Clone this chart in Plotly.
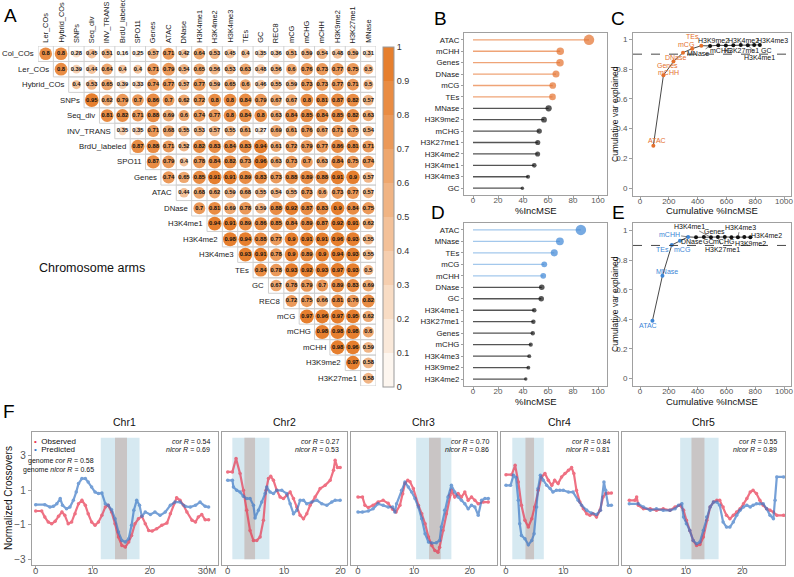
import plotly.graph_objects as go
from itertools import accumulate

W, H = 794, 577
FONT = "Liberation Sans, Arial, sans-serif"


def fx(px):
    return px / W


def fy(py):
    return 1 - py / H


# ---------------- Panel A data ----------------
corr_vars = ["Col_COs", "Ler_COs", "Hybrid_COs", "SNPs", "Seq_div", "INV_TRANS",
             "BrdU_labeled", "SPO11", "Genes", "ATAC", "DNase", "H3K4me1",
             "H3K4me2", "H3K4me3", "TEs", "GC", "REC8", "mCG", "mCHG", "mCHH",
             "H3K9me2", "H3K27me1", "MNase"]
corr_rows = [
    [0.8, 0.8, 0.28, 0.45, 0.51, 0.16, 0.25, 0.57, 0.71, 0.42, 0.64, 0.53, 0.45, 0.4, 0.35, 0.36, 0.51, 0.59, 0.54, 0.48, 0.59, 0.31],
    [0.8, 0.39, 0.44, 0.64, 0.4, 0.4, 0.71, 0.79, 0.54, 0.65, 0.56, 0.53, 0.63, 0.48, 0.56, 0.6, 0.76, 0.73, 0.77, 0.75, 0.5],
    [0.4, 0.53, 0.65, 0.39, 0.33, 0.74, 0.77, 0.57, 0.77, 0.59, 0.65, 0.6, 0.46, 0.55, 0.59, 0.73, 0.73, 0.77, 0.71, 0.5],
    [0.95, 0.62, 0.79, 0.7, 0.86, 0.7, 0.62, 0.72, 0.8, 0.8, 0.84, 0.79, 0.67, 0.67, 0.8, 0.81, 0.87, 0.82, 0.57],
    [0.81, 0.82, 0.71, 0.88, 0.69, 0.6, 0.74, 0.77, 0.8, 0.84, 0.8, 0.63, 0.84, 0.85, 0.84, 0.85, 0.82, 0.63],
    [0.35, 0.35, 0.71, 0.68, 0.55, 0.53, 0.57, 0.55, 0.61, 0.27, 0.69, 0.61, 0.76, 0.67, 0.71, 0.75, 0.54],
    [0.87, 0.88, 0.71, 0.52, 0.82, 0.83, 0.84, 0.83, 0.94, 0.61, 0.72, 0.79, 0.77, 0.86, 0.81, 0.71],
    [0.87, 0.79, 0.4, 0.78, 0.84, 0.82, 0.73, 0.96, 0.63, 0.73, 0.7, 0.63, 0.84, 0.75, 0.74],
    [0.74, 0.65, 0.85, 0.91, 0.91, 0.89, 0.83, 0.73, 0.88, 0.89, 0.88, 0.91, 0.9, 0.57],
    [0.44, 0.68, 0.62, 0.59, 0.68, 0.55, 0.54, 0.55, 0.73, 0.6, 0.73, 0.77, 0.57],
    [0.7, 0.81, 0.69, 0.78, 0.59, 0.88, 0.92, 0.87, 0.83, 0.9, 0.84, 0.75],
    [0.94, 0.91, 0.89, 0.86, 0.85, 0.84, 0.89, 0.87, 0.92, 0.91, 0.62],
    [0.98, 0.94, 0.88, 0.77, 0.9, 0.91, 0.91, 0.96, 0.93, 0.55],
    [0.93, 0.91, 0.78, 0.9, 0.89, 0.9, 0.94, 0.93, 0.55],
    [0.84, 0.78, 0.93, 0.92, 0.93, 0.97, 0.93, 0.5],
    [0.67, 0.78, 0.79, 0.7, 0.89, 0.83, 0.69],
    [0.72, 0.75, 0.66, 0.81, 0.76, 0.82],
    [0.97, 0.96, 0.97, 0.95, 0.62],
    [0.98, 0.98, 0.98, 0.6],
    [0.98, 0.96, 0.59],
    [0.97, 0.58],
    [0.58],
]
cb_ticks = [0, 0.1, 0.2, 0.3, 0.4, 0.5, 0.6, 0.7, 0.8, 0.9, 1]

# ---------------- Panels B-E data ----------------
imp_vars_B = ["ATAC", "mCHH", "Genes", "DNase", "mCG", "TEs", "MNase", "H3K9me2",
              "mCHG", "H3K27me1", "H3K4me2", "H3K4me1", "H3K4me3", "GC"]
imp_B = [92.8, 69.8, 69.6, 66.4, 63.8, 63.6, 60.5, 56.8, 53.0, 51.8, 51.7, 49.0, 44.0, 39.5]
cumvar_B = [0.286, 0.758, 0.850, 0.910, 0.937, 0.957, 0.955, 0.960, 0.958, 0.960,
            0.962, 0.960, 0.962, 0.962]
n_sel_B = 6

imp_vars_D = ["ATAC", "MNase", "TEs", "mCG", "mCHH", "DNase", "GC", "H3K4me1",
              "H3K27me1", "Genes", "mCHG", "H3K4me3", "H3K9me2", "H3K4me2"]
imp_D = [86.3, 69.5, 65.0, 57.0, 56.2, 55.0, 54.6, 49.0, 48.3, 47.8, 46.2, 45.0, 44.3, 42.2]
cumvar_D = [0.390, 0.695, 0.903, 0.932, 0.958, 0.955, 0.957, 0.955, 0.957, 0.957,
            0.956, 0.956, 0.957, 0.956]
n_sel_D = 5

# ---------------- Panel F data ----------------
chr_names = ["Chr1", "Chr2", "Chr3", "Chr4", "Chr5"]
cor_R = ["0.54", "0.27", "0.70", "0.84", "0.55"]
nlcor_R = ["0.69", "0.53", "0.86", "0.81", "0.89"]
genome_cor_R = "0.58"
genome_nlcor_R = "0.65"
peri_start = [11.4, 0.82, 10.4, 1.1, 9.0]
peri_end = [18.2, 7.4, 16.7, 6.6, 15.8]
cen_start = [13.9, 2.96, 12.7, 3.4, 11.0]
cen_end = [16.0, 4.85, 14.8, 4.9, 13.3]
band_bottom, band_top = -3.0, 4.05

chr1_obs_pos = [0, 1.05, 1.6, 2.2, 2.8, 3.4, 4.0, 4.6, 5.1, 5.7, 6.3, 6.9, 7.5, 8.1, 8.7, 9.2, 9.8,
                10.4, 11.0, 11.6, 12.2, 12.7, 13.3, 13.9, 14.5, 15.1, 15.7, 16.3, 16.8, 17.4, 18.0,
                18.6, 19.2, 19.8, 20.4, 21.2, 22.1, 23.0, 23.6, 24.2, 24.7, 25.3, 25.9, 26.5, 27.4,
                28.0, 28.5, 29.1, 29.7, 30.3]
chr1_obs = [-0.20, -0.20, -0.55, -0.84, -0.94, -0.80, -0.51, -0.26, -0.45, -0.94, -0.84, -0.36,
            0.22, 0.42, 0.13, -0.36, -0.84, -1.03, -0.84, -0.45, 0.03, 0.13, -0.26, -0.94, -1.71,
            -2.20, -2.29, -2.00, -1.62, -0.94, -0.65, -0.51, -0.94, -1.33, -1.36, -1.23, -1.03,
            -0.90, -0.36, 0.22, 0.57, 0.42, 0.13, -0.26, -0.74, -0.84, -0.55, -0.40, -0.71, -0.71]
chr1_pred_pos = [0, 1.6, 2.5, 3.1, 3.7, 4.3, 4.7, 5.4, 6.0, 6.6, 7.1, 7.5, 8.1, 8.7, 9.2, 9.8,
                 10.4, 11.0, 11.6, 12.2, 12.7, 13.3, 13.9, 14.5, 15.1, 15.7, 16.3, 16.8, 17.2,
                 17.7, 18.2, 18.6, 19.2, 20.1, 20.9, 21.8, 22.7, 23.6, 24.4, 25.3, 26.2, 27.1,
                 28.0, 28.8, 29.7, 30.3]
chr1_pred = [0.17, 0.17, 0.03, 0.07, 0.22, 0.52, 0.13, -0.07, 0.03, 0.42, 0.90, 1.39, 1.68, 1.68,
             1.48, 1.19, 0.90, 0.81, 0.84, 0.22, 0.13, -0.12, -0.65, -1.42, -1.91, -2.00, -1.81,
             -1.03, -0.16, 0.42, 0.13, -0.51, -0.26, -0.40, -0.26, -0.45, -0.26, 0.13, 0.32, 0.32,
             0.07, 0.03, 0.13, 0.32, 0.07, 0.03]

chr2_obs_pos = [0, 0.83, 1.48, 2.19, 2.78, 3.37, 3.96, 4.56, 5.15, 5.74, 6.33, 6.80, 7.22, 7.63,
                8.11, 8.70, 9.29, 9.88, 10.47, 11.07, 11.66, 12.25, 12.84, 13.43, 14.02, 14.62,
                15.50, 16.39, 17.28, 18.17, 18.76, 19.05, 19.47, 19.94]
chr2_obs = [2.07, 2.07, 2.84, 1.97, 1.0, -0.16, -1.33, -1.91, -1.91, -1.71, -0.74, 1.0, 1.68,
            1.81, 1.58, 1.0, 0.61, 0.52, 0.71, 0.9, 0.52, 0.03, -0.45, -0.65, -0.36, 0.13, 0.61,
            1.10, 1.29, 1.58, 2.16, 2.74, 2.32, 2.32]
chr2_pred_pos = [0, 0.83, 1.01, 1.60, 2.19, 2.78, 3.37, 3.96, 4.56, 4.85, 5.44, 6.04, 6.63, 6.92,
                 7.51, 8.11, 8.70, 9.59, 10.47, 11.07, 11.66, 12.25, 12.84, 13.43, 14.02, 14.91,
                 15.80, 16.69, 17.57, 18.46, 19.05, 19.94]
chr2_pred = [1.58, 1.58, 1.19, 1.0, 0.9, 0.65, 0.52, 0.52, 0.13, -0.6, -0.16, 0.32, 0.81, 1.19,
             0.9, 0.81, 1.0, 1.0, 0.81, 0.22, -0.36, -0.16, 0.42, 0.42, 0.22, 0.32, 0.42, 0.22,
             0.13, 0.32, 0.42, 0.42]

chr3_obs_pos = [0, 0.8, 1.25, 1.85, 2.7, 3.6, 4.5, 5.4, 6.2, 6.8, 7.5, 8.0, 8.4, 8.9, 9.3, 9.9,
                10.8, 11.4, 12.0, 12.6, 13.2, 13.75, 14.3, 14.6, 15.2, 15.8, 16.4, 16.7, 17.3,
                17.9, 18.5, 19.1, 19.7, 20.3, 20.9, 21.5, 22.4, 23.3]
chr3_obs = [0.61, 0.61, 0.13, 0.0, 0.13, 0.32, 0.42, 0.25, -0.1, -0.26, 0.13, 0.8, 1.4, 1.58,
            1.5, 1.1, 0.13, -0.36, -0.94, -1.71, -2.2, -2.49, -2.59, -2.3, -1.33, -0.36, 0.71,
            1.0, 0.61, 0.81, 0.61, 0.9, 0.42, 0.61, 0.42, 0.22, 0.32, 0.32]
chr3_pred_pos = [0, 0.8, 1.85, 2.7, 3.6, 4.5, 5.4, 6.2, 6.6, 6.9, 7.8, 8.4, 9.0, 9.6, 10.2, 10.8,
                 11.4, 12.0, 12.6, 13.2, 14.0, 14.6, 14.9, 15.5, 16.1, 16.7, 17.3, 17.9, 18.5,
                 19.1, 19.7, 20.3, 20.9, 21.5, 22.1, 22.7, 23.3]
chr3_pred = [-0.26, -0.26, -0.2, -0.07, 0.22, 0.13, 0.03, 0.03, -0.26, 0.22, 1.0, 1.48, 1.19,
             0.9, 0.52, 0.03, -0.65, -1.52, -2.0, -2.06, -2.04, -1.91, -1.13, -0.16, 0.61, 1.29,
             0.9, 0.61, 0.42, 0.22, -0.07, 0.13, 0.03, -0.45, 0.42, 0.52, 0.52]

chr4_obs_pos = [0, 1.0, 1.6, 2.15, 2.7, 3.3, 3.9, 4.5, 5.0, 5.6, 6.2, 6.8, 7.4, 8.0, 8.5, 9.1,
                9.7, 10.3, 10.9, 11.45, 11.85, 12.3, 12.9, 13.5, 14.1, 14.65, 15.2, 15.8, 16.4,
                16.95, 17.4, 17.85, 18.4]
chr4_obs = [1.91, 1.91, 2.45, 1.48, 0.13, -0.74, -1.13, -0.65, 0.03, 1.0, 1.78, 1.97, 1.58, 1.29,
            1.58, 1.39, 1.78, 1.97, 2.16, 2.32, 1.97, 1.0, 0.32, -0.07, -0.36, -0.45, -0.36,
            -0.55, -0.16, 0.61, 0.81, 0.84, 0.84]
chr4_pred_pos = [0, 0.8, 1.3, 1.75, 2.15, 2.4, 2.7, 3.3, 3.9, 4.5, 4.9, 5.35, 5.6, 6.0, 6.5, 7.1,
                 7.7, 8.2, 8.8, 9.4, 10.0, 10.9, 11.7, 12.6, 13.2, 14.1, 14.9, 15.8, 16.5, 17.1,
                 17.4, 17.85, 18.4]
chr4_pred = [1.29, 1.29, 1.87, 1.74, 0.42, -0.94, -1.62, -1.81, -2.16, -1.91, -1.52, 0.03, 1.10,
             1.87, 1.58, 1.29, 1.10, 0.9, 1.0, 1.0, 1.0, 0.9, 0.9, 0.42, 0.13, -0.16, -0.32,
             -0.40, -0.16, 1.48, 1.0, 0.13, 0.13]

chr5_obs_pos = [0, 1.0, 1.3, 1.6, 2.5, 3.7, 4.8, 6.0, 7.2, 8.1, 9.0, 9.6, 10.1, 10.7, 11.3, 11.9,
                12.5, 13.1, 13.7, 14.3, 14.9, 15.5, 16.0, 16.6, 17.2, 17.8, 18.4, 19.0, 19.6,
                20.2, 20.8, 21.4, 21.9, 22.5, 23.1, 23.7, 24.3, 24.9, 25.5, 26.1, 27.3]
chr5_obs = [0.42, 0.42, 0.61, 0.13, -0.07, -0.07, -0.16, -0.07, -0.16, 0.03, 0.13, -0.16, -0.74,
            -1.33, -1.91, -2.2, -2.14, -1.71, -0.74, 0.03, 0.32, 0.42, 0.42, 0.03, -0.45, -0.65,
            -0.45, -0.26, -0.07, 0.22, 0.52, 0.9, 1.0, 0.81, 0.42, 0.13, -0.07, -0.16, -0.26,
            -0.45, -0.45]
chr5_pred_pos = [0, 1.6, 2.5, 3.7, 4.8, 6.0, 7.2, 8.1, 8.7, 9.3, 9.6, 10.1, 10.7, 11.3, 11.9,
                 12.5, 13.1, 13.7, 14.3, 14.9, 15.5, 16.0, 16.6, 17.2, 17.8, 18.4, 19.0, 19.6,
                 20.2, 20.8, 21.4, 21.9, 22.5, 23.1, 23.7, 24.3, 24.9, 25.5, 25.8, 26.1, 27.3]
chr5_pred = [0.22, 0.22, 0.03, -0.16, -0.07, -0.16, -0.16, -0.07, 0.13, 0.22, -0.55, -0.94,
             -1.33, -1.91, -2.1, -2.0, -1.33, -0.55, 0.03, 0.32, 0.32, 0.13, -0.84, -1.13, -1.13,
             -0.84, -0.45, -0.16, 0.03, 0.13, 0.03, 0.13, 0.22, 0.22, 0.22, -0.07, -0.45, -0.65,
             0.42, 1.78, 1.78]

obs_pos = [chr1_obs_pos, chr2_obs_pos, chr3_obs_pos, chr4_obs_pos, chr5_obs_pos]
obs_val = [chr1_obs, chr2_obs, chr3_obs, chr4_obs, chr5_obs]
pred_pos = [chr1_pred_pos, chr2_pred_pos, chr3_pred_pos, chr4_pred_pos, chr5_pred_pos]
pred_val = [chr1_pred, chr2_pred, chr3_pred, chr4_pred, chr5_pred]

# ---------------- Styling ----------------
cb_colors = ["#FDF6EF", "#FAE9DA", "#F8DCC4", "#F5CEAF", "#F3C199",
             "#F0B484", "#EEA76E", "#EB9959", "#E98C43", "#E67F2E"]
ORANGE_DOT, ORANGE_SEG = "#E4702C", "#EFA477"
BLUE_DOT, BLUE_SEG = "#3D86D6", "#A3C8EC"
BLACK_DOT, BLACK_SEG = "#111111", "#555555"
OBS_COL, PRED_COL = "#E8364F", "#3B78C6"
AX_COL = "#A0A0A0"
TICK_COL = "#555555"
TXT = "#1a1a1a"


def bin_color(v):
    return cb_colors[min(int(round(v * 100)) // 10, 9)]


fig = go.Figure()
annotations = []
shapes = []


def label(px, py, text, size, color="#111111", angle=0, xanchor="center", yanchor="middle"):
    annotations.append(dict(x=fx(px), y=fy(py), xref="paper", yref="paper", text=text,
                            showarrow=False, textangle=angle, xanchor=xanchor, yanchor=yanchor,
                            font=dict(size=size, color=color)))


# ---------------- Panel A ----------------
row_labels = corr_vars[:-1]
col_labels = corr_vars[1:]
n = len(col_labels)

gx, gy = [], []
for i in range(n):
    for yy in (i - 0.5, i + 0.5):
        gx += [i - 0.5, n - 0.5, None]
        gy += [yy, yy, None]
    for j in range(i, n + 1):
        gx += [j - 0.5, j - 0.5, None]
        gy += [i - 0.5, i + 0.5, None]
fig.add_trace(go.Scatter(x=gx, y=gy, mode="lines", line=dict(color="#D0D0D0", width=1),
                         xaxis="x", yaxis="y", hoverinfo="skip"))

cx, cy, cv = [], [], []
for i, row in enumerate(corr_rows):
    for k, v in enumerate(row):
        cx.append(i + k)
        cy.append(i)
        cv.append(v)

fig.add_trace(go.Scatter(
    x=cx, y=cy, mode="markers",
    marker=dict(size=[14.2 * v ** 0.5 for v in cv], color=[bin_color(v) for v in cv],
                line=dict(width=0), opacity=1),
    xaxis="x", yaxis="y", hoverinfo="skip"))
fig.add_trace(go.Scatter(
    x=cx, y=cy, mode="text", text=[f"{v:g}" for v in cv],
    textfont=dict(size=5.8, color="#111111", family=FONT, weight="bold"),
    xaxis="x", yaxis="y", hoverinfo="skip"))

# column labels (rotated)
for j, lab in enumerate(col_labels):
    annotations.append(dict(x=j, y=-0.5, xref="x", yref="y", text=lab, showarrow=False,
                            textangle=-90, xanchor="center", yanchor="bottom", yshift=1,
                            font=dict(size=7.4, color=TXT)))
# row labels
for i, lab in enumerate(row_labels):
    annotations.append(dict(x=i - 0.5, y=i, xref="x", yref="y", text=lab, showarrow=False,
                            xanchor="right", xshift=-2, font=dict(size=7.8, color=TXT)))
label(92, 268, "Chromosome arms", 12.5)

# colorbar (dummy trace)
discrete_scale = []
for k, c in enumerate(cb_colors):
    discrete_scale += [[k / 10, c], [(k + 1) / 10, c]]
fig.add_trace(go.Scatter(
    x=[None], y=[None], mode="markers", xaxis="x", yaxis="y", hoverinfo="skip",
    marker=dict(color=[0.5], cmin=0, cmax=1, colorscale=discrete_scale, showscale=True,
                colorbar=dict(x=fx(383), xanchor="left", y=fy(46.7), yanchor="top",
                              len=340, lenmode="pixels", thickness=11, thicknessmode="pixels",
                              xpad=0, ypad=0, outlinecolor="#9A9A9A", outlinewidth=1,
                              tickvals=cb_ticks, ticktext=[f"{t:g}" for t in cb_ticks],
                              ticks="", tickfont=dict(size=9, color="#333333", family=FONT)))))


# ---------------- Lollipop helper ----------------
def lollipop(names, vals, nsel, dot_col, seg_col, xa, ya):
    vmin, vmax = min(vals), max(vals)
    for grp, (dc, sc) in enumerate([(dot_col, seg_col), (BLACK_DOT, BLACK_SEG)]):
        idx = [i for i in range(len(vals)) if (i < nsel) == (grp == 0)]
        sx, sy = [], []
        for i in idx:
            sx += [0, vals[i], None]
            sy += [i, i, None]
        fig.add_trace(go.Scatter(x=sx, y=sy, mode="lines", line=dict(color=sc, width=1.3),
                                 xaxis=xa, yaxis=ya, hoverinfo="skip"))
        fig.add_trace(go.Scatter(
            x=[vals[i] for i in idx], y=idx, mode="markers",
            marker=dict(color=dc, size=[3.5 + 7 * (vals[i] - vmin) / (vmax - vmin) for i in idx],
                        line=dict(width=0)),
            xaxis=xa, yaxis=ya, hoverinfo="skip"))


def cumulative(names, vals, cumvar, nsel, col, xa, ya, offs, arrow_set):
    cum = list(accumulate(vals))
    fig.add_trace(go.Scatter(x=cum, y=cumvar, mode="lines", line=dict(color="#333333", width=0.9),
                             xaxis=xa, yaxis=ya, hoverinfo="skip"))
    fig.add_trace(go.Scatter(x=cum, y=cumvar, mode="markers",
                             marker=dict(color=[col if i < nsel else BLACK_DOT for i in range(len(vals))],
                                         size=4),
                             xaxis=xa, yaxis=ya, hoverinfo="skip"))
    for i, nm in enumerate(names):
        dx, dy = offs[i]
        c = col if i < nsel else "#111111"
        a = dict(x=cum[i], y=cumvar[i], xref=xa, yref=ya, text=nm,
                 font=dict(size=7, color=c))
        if nm in arrow_set:
            a.update(showarrow=True, ax=dx, ay=dy, arrowhead=0, arrowwidth=0.6,
                     arrowcolor="#333333", standoff=1)
        else:
            a.update(showarrow=False, xshift=dx, yshift=-dy)
        annotations.append(a)
    shapes.append(dict(type="line", xref=f"{xa} domain", x0=0, x1=1, yref=ya, y0=0.9, y1=0.9,
                       line=dict(color="#333333", width=0.9, dash="dash")))


lollipop(imp_vars_B, imp_B, n_sel_B, ORANGE_DOT, ORANGE_SEG, "x2", "y2")
lollipop(imp_vars_D, imp_D, n_sel_D, BLUE_DOT, BLUE_SEG, "x4", "y4")

offs_C = [(4, -5), (5, -3), (-6, 3.6), (-7, 4.6), (-6.5, -3.7), (-8.6, -9), (-12, 8),
          (-5, -4.6), (-5, 5), (8.4, 5.4), (3.2, -4.3), (12, 12), (18.6, -4.3), (7, 5.7)]
offs_E = [(-4.4, 5), (4.6, -4), (-8.8, 4), (1.7, 8.3), (-19, -2.6), (-4.3, 4.4), (5.1, 4.7),
          (-21, -11.3), (5.1, 12.3), (-9.8, -5.5), (-8.1, 4.4), (2.1, -10), (6.7, 6), (16.3, -1.7)]
cumulative(imp_vars_B, imp_B, cumvar_B, n_sel_B, ORANGE_DOT, "x3", "y3", offs_C,
           {"MNase", "H3K4me1"})
cumulative(imp_vars_D, imp_D, cumvar_D, n_sel_D, BLUE_DOT, "x5", "y5", offs_E,
           {"mCHH", "H3K4me1", "Genes", "H3K27me1", "H3K4me3"})

# axis titles B-E
label(535.5, 210.5, "%IncMSE", 9.5)
label(535.5, 401, "%IncMSE", 9.5)
label(712, 210.5, "Cumulative %IncMSE", 9.5)
label(712, 401, "Cumulative %IncMSE", 9.5)
label(615, 114, "Cumulative var explained", 8.5, angle=-90)
label(615, 304, "Cumulative var explained", 8.5, angle=-90)

# ---------------- Panel F ----------------
F_xdom = [(31.7, 218.3), (222.3, 346.7), (350.7, 496.7), (501, 617.7), (622.3, 785)]
F_xrange = [(-0.7, 32.0), (-0.96, 21.1), (-1.3, 24.8), (-0.87, 19.5), (-1.24, 27.55)]
F_top, F_bot = 431.7, 565

for k in range(5):
    xa, ya = f"x{6 + k}", f"y{6 + k}"
    shapes.append(dict(type="rect", xref=xa, yref=ya, x0=peri_start[k], x1=peri_end[k],
                       y0=band_bottom, y1=band_top, fillcolor="#D6E9F1", line=dict(width=0),
                       layer="below"))
    shapes.append(dict(type="rect", xref=xa, yref=ya, x0=cen_start[k], x1=cen_end[k],
                       y0=band_bottom, y1=band_top, fillcolor="#C9C5C5", line=dict(width=0),
                       layer="below"))
    fig.add_trace(go.Scatter(x=obs_pos[k], y=obs_val[k], mode="lines+markers",
                             line=dict(color=OBS_COL, width=2.2), marker=dict(size=3.5, color=OBS_COL),
                             opacity=0.7, xaxis=xa, yaxis=ya, hoverinfo="skip"))
    fig.add_trace(go.Scatter(x=pred_pos[k], y=pred_val[k], mode="lines+markers",
                             line=dict(color=PRED_COL, width=2.2), marker=dict(size=3.5, color=PRED_COL),
                             opacity=0.7, xaxis=xa, yaxis=ya, hoverinfo="skip"))
    x0, x1 = F_xdom[k]
    label((x0 + x1) / 2, 421.5, chr_names[k], 10.5)
    label(x1 - 6, 441.5, f"<i>cor R</i> = {cor_R[k]}", 7, xanchor="right")
    label(x1 - 6, 449.5, f"<i>nlcor R</i> = {nlcor_R[k]}", 7, xanchor="right")

label(96, 461, f"genome <i>cor R</i> = {genome_cor_R}", 7, xanchor="right")
label(96, 469.5, f"genome <i>nlcor R</i> = {genome_nlcor_R}", 7, xanchor="right")
label(32, 441.2, f"<span style='color:{OBS_COL}'>•</span>  Observed", 8, xanchor="left")
label(32, 449.6, f"<span style='color:{PRED_COL}'>•</span>  Predicted", 8, xanchor="left")
label(8, 498, "Normalized Crossovers", 10, angle=-90)

# panel letters
for letter, px, py in [("A", 10, 16), ("B", 440, 19), ("C", 618, 19), ("D", 438, 212),
                       ("E", 618, 212), ("F", 9, 411)]:
    label(px, py, letter, 19, color="#000000")


# ---------------- Layout ----------------
def box_axis(**kw):
    d = dict(showline=True, mirror=True, linecolor=AX_COL, linewidth=1, ticks="outside",
             ticklen=3, tickcolor=AX_COL, tickfont=dict(size=8, color=TICK_COL),
             showgrid=False, zeroline=False, automargin=False)
    d.update(kw)
    return d


layout = dict(
    width=W, height=H, margin=dict(l=0, r=0, t=0, b=0, pad=0, autoexpand=False), showlegend=False,
    paper_bgcolor="white", plot_bgcolor="white", font=dict(family=FONT),
    xaxis=dict(domain=[fx(38), fx(376)], range=[-0.5, n - 0.5], anchor="y", visible=False,
               automargin=False),
    yaxis=dict(domain=[fy(386), fy(46)], range=[n - 0.5, -0.5], anchor="x", visible=False,
               automargin=False),
    xaxis2=box_axis(domain=[fx(464), fx(607)], range=[-7.2, 107.2], anchor="y2",
                    tickvals=[0, 20, 40, 60, 80, 100], ticklabelstandoff=-6),
    yaxis2=box_axis(domain=[fy(195), fy(33)], range=[len(imp_B) - 0.4, -0.6], anchor="x2",
                    tickvals=list(range(len(imp_B))), ticktext=imp_vars_B, ticklen=2,
                    tickfont=dict(size=7.8, color=TXT)),
    xaxis4=box_axis(domain=[fx(464), fx(607)], range=[-7.2, 107.2], anchor="y4",
                    tickvals=[0, 20, 40, 60, 80, 100], ticklabelstandoff=-6),
    yaxis4=box_axis(domain=[fy(386), fy(223)], range=[len(imp_D) - 0.4, -0.6], anchor="x4",
                    tickvals=list(range(len(imp_D))), ticktext=imp_vars_D, ticklen=2,
                    tickfont=dict(size=7.8, color=TXT)),
    xaxis3=box_axis(domain=[fx(633), fx(791)], range=[-48.6, 1048.6], anchor="y3",
                    tickvals=[0, 200, 400, 600, 800, 1000], ticklabelstandoff=-6),
    yaxis3=box_axis(domain=[fy(196), fy(33)], range=[-0.052, 1.042], anchor="x3",
                    tickvals=[0, 0.2, 0.4, 0.6, 0.8, 1]),
    xaxis5=box_axis(domain=[fx(633), fx(791)], range=[-48.6, 1048.6], anchor="y5",
                    tickvals=[0, 200, 400, 600, 800, 1000], ticklabelstandoff=-6),
    yaxis5=box_axis(domain=[fy(386), fy(223)], range=[-0.052, 1.052], anchor="x5",
                    tickvals=[0, 0.2, 0.4, 0.6, 0.8, 1]),
    annotations=annotations, shapes=shapes,
)

for k in range(5):
    x0, x1 = F_xdom[k]
    tv = [0, 10, 20, 30]
    tt = ["0", "10", "20", "30M"] if k == 0 else ["0", "10", "20", "30"]
    layout[f"xaxis{6 + k}"] = box_axis(domain=[fx(x0), fx(x1)], range=list(F_xrange[k]),
                                       anchor=f"y{6 + k}", tickvals=tv, ticktext=tt,
                                       ticklabelstandoff=-6,
                                       tickfont=dict(size=9.5, color=TICK_COL))
    layout[f"yaxis{6 + k}"] = box_axis(domain=[fy(F_bot), fy(F_top)], range=[-3.33, 4.4],
                                       anchor=f"x{6 + k}", tickvals=[-3, -1, 1, 3],
                                       ticktext=["\u22123", "\u22121", "1", "3"],
                                       showticklabels=(k == 0), ticks="outside" if k == 0 else "",
                                       tickfont=dict(size=10, color=TICK_COL))

fig.update_layout(**layout)
fig.write_html("out.html", config={"displayModeBar": False},
               post_script="document.body.style.margin='0';document.body.style.overflow='hidden';")
